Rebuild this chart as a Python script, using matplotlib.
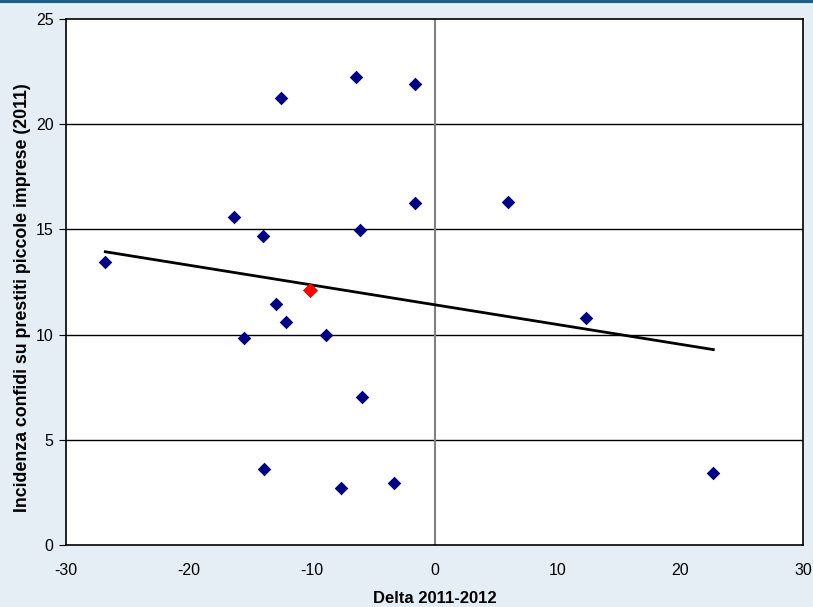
import numpy as np
import matplotlib.pyplot as plt
from matplotlib.lines import Line2D

# values
delta = [-26.8, -16.3, -14.0, -12.5, -6.4, -1.55, -1.6, -6.1, 6.0, -12.9,
         -12.1, -15.5, -8.8, 12.3, -5.9, -13.9, -7.65, -3.3, 22.7]
incid = [13.44, 15.58, 14.68, 21.23, 22.23, 21.9, 16.25, 14.96, 16.3, 11.45,
         10.6, 9.83, 9.98, 10.78, 7.03, 3.61, 2.71, 2.95, 3.42]
# highlighted point
hl_delta = [-10.1]
hl_incid = [12.1]

xticks = [-30, -20, -10, 0, 10, 20, 30]
yticks = [0, 5, 10, 15, 20, 25]

narrow = ['Liberation Sans Narrow', 'Liberation Sans', 'DejaVu Sans']
plt.rcParams['font.family'] = ['Liberation Sans', 'DejaVu Sans']
plt.rcParams['axes.unicode_minus'] = False

bg = '#E6EEF5'
fig = plt.figure(figsize=(8.13, 6.07), dpi=100, facecolor=bg)
ax = fig.add_axes([0.0812, 0.1021, 0.9065, 0.8666])
ax.set_facecolor('white')

# regression line over all points
all_x = np.array(delta + hl_delta)
all_y = np.array(incid + hl_incid)
m, q = np.polyfit(all_x, all_y, 1)
xs = np.array([all_x.min(), all_x.max()])
ax.plot(xs, m * xs + q, color='black', lw=2, zorder=3)

ax.scatter(delta, incid, marker='D', s=48, color='#000080', zorder=4, linewidths=0)
ax.scatter(hl_delta, hl_incid, marker='D', s=60, color='#FF0000', zorder=5, linewidths=0)

ax.set_xlim(-30, 30)
ax.set_ylim(0, 25)
ax.set_xticks(xticks)
ax.set_yticks(yticks)
for y in yticks[1:-1]:
    ax.axhline(y, color='black', lw=1, zorder=1)
ax.axvline(0, color='#808080', lw=1.5, zorder=2)

for s in ax.spines.values():
    s.set_color('black')
    s.set_linewidth(1.2)

ax.tick_params(axis='x', length=0, pad=13)
ax.tick_params(axis='y', length=5, direction='out', pad=4)
for lab in ax.get_xticklabels() + ax.get_yticklabels():
    lab.set_family(narrow)
    lab.set_fontsize(11.5)

ax.set_xlabel('Delta 2011-2012', fontsize=12, fontweight='bold', family=narrow, labelpad=9)
ax.set_ylabel('Incidenza confidi su prestiti piccole imprese (2011)', fontsize=12.8,
              fontweight='bold')
ax.yaxis.set_label_coords(-0.047, 0.47)

# dark strip at the very top
fig.add_artist(Line2D([0, 1], [0.998, 0.998], transform=fig.transFigure,
                      color='#1F5C8A', lw=3))

fig.savefig('out.png', dpi=100, facecolor=bg)
